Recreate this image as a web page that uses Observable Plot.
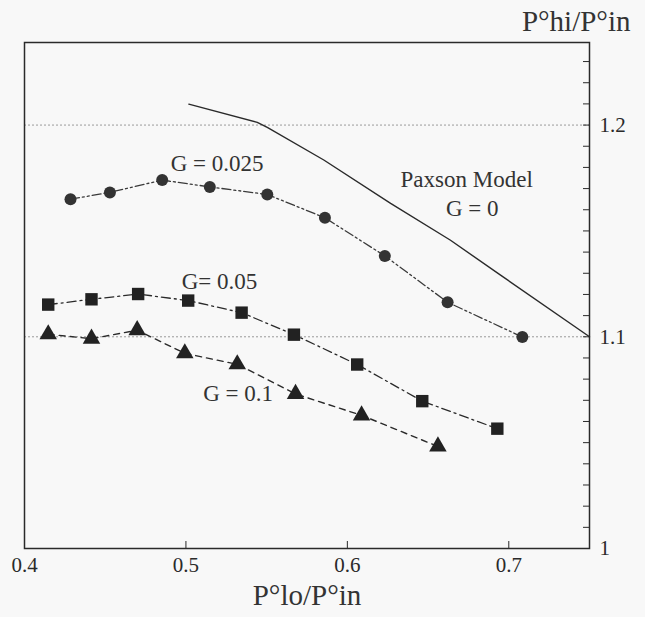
<!DOCTYPE html>
<html><head><meta charset="utf-8">
<script src="https://cdn.jsdelivr.net/npm/d3@7"></script>
<script src="https://cdn.jsdelivr.net/npm/@observablehq/plot@0.6"></script>
<style>body{margin:0;background:#f8f8f8}</style>
</head><body><div id="chart"></div>
<script>
// G = 0.025 (circles)
const g025X = [0.4285, 0.4529, 0.4853, 0.5148, 0.5504, 0.5861, 0.6232, 0.6621, 0.7084];
const g025Y = [1.1650, 1.1682, 1.1740, 1.1708, 1.1672, 1.1562, 1.1382, 1.1163, 1.0999];
// G = 0.05 (squares)
const g05X = [0.4147, 0.4415, 0.4704, 0.5014, 0.5345, 0.5669, 0.6061, 0.6464, 0.6929];
const g05Y = [1.1152, 1.1177, 1.1202, 1.1171, 1.1114, 1.1010, 1.0869, 1.0696, 1.0566];
// G = 0.1 (triangles)
const g1X = [0.4147, 0.4415, 0.4698, 0.4993, 0.5318, 0.5679, 0.6088, 0.6561];
const g1Y = [1.1012, 1.0991, 1.1031, 1.0922, 1.0870, 1.0730, 1.0629, 1.0482];
// Paxson model G = 0 (solid line)
const paxX = [0.5018, 0.5442, 0.5504, 0.5854, 0.6268, 0.6639, 0.6949, 0.7500];
const paxY = [1.2099, 1.2013, 1.1989, 1.1835, 1.1630, 1.1456, 1.1291, 1.1000];

const xTicks = [0.4, 0.5, 0.6, 0.7];
const xTickMarks = [0.5, 0.6, 0.7];
const yTicks = [1.0, 1.1, 1.2];
const yGrid = [1.1, 1.2];
const yMinor = d3.range(1, 24).map(i => 1 + i / 100);

const labelText = ["G = 0.025", "G= 0.05", "G = 0.1", "Paxson Model", "G = 0"];
const labelX = [0.5193, 0.5208, 0.5323, 0.6739, 0.6774];
const labelY = [1.1818, 1.1260, 1.0731, 1.1740, 1.1605];

const toRows = (xs, ys) => xs.map((x, i) => ({x, y: ys[i]}));
const g025 = toRows(g025X, g025Y);
const g05 = toRows(g05X, g05Y);
const g1 = toRows(g1X, g1Y);
const pax = toRows(paxX, paxY);
const labels = labelText.map((t, i) => ({t, x: labelX[i], y: labelY[i]}));

const ink = "#2a2a2a";
const serif = "'Liberation Serif', 'Times New Roman', serif";
const chart = Plot.plot({
  width: 645, height: 617,
  marginLeft: 24, marginRight: 56, marginTop: 42, marginBottom: 69,
  style: {fontFamily: serif, background: "#f8f8f8", color: ink},
  x: {domain: [0.4, 0.75]},
  y: {domain: [1.0, 1.239]},
  marks: [
    Plot.ruleY(yGrid, {y: d => d, stroke: "#9a9a9a", strokeDasharray: "2,2", strokeWidth: 1}),
    Plot.ruleX(xTickMarks, {x: d => d, insetTop: 499, stroke: ink}),
    Plot.ruleY(yMinor, {y: d => d, insetLeft: 559, stroke: ink}),
    Plot.frame({stroke: ink, strokeWidth: 1.5}),
    Plot.axisX({ticks: xTicks, tickSize: 0, tickPadding: 9, fontSize: 21, fontFamily: serif, label: null, tickFormat: d => d.toFixed(1)}),
    Plot.axisY({anchor: "right", ticks: yTicks, tickSize: 0, tickPadding: 10, fontSize: 21, fontFamily: serif, label: null,
      tickFormat: d => d === 1 ? "1" : d.toFixed(1)}),
    Plot.line(pax, {x: "x", y: "y", stroke: ink, strokeWidth: 1.4}),
    Plot.line(g025, {x: "x", y: "y", stroke: "#3a3a3a", strokeWidth: 1.3, strokeDasharray: "9,3,2,3,2,3"}),
    Plot.line(g05, {x: "x", y: "y", stroke: ink, strokeWidth: 1.3, strokeDasharray: "9,4,2,4"}),
    Plot.line(g1, {x: "x", y: "y", stroke: ink, strokeWidth: 1.4, strokeDasharray: "6,5"}),
    Plot.dot(g025, {x: "x", y: "y", r: 6, fill: "#333", symbol: "circle"}),
    Plot.dot(g05, {x: "x", y: "y", r: 7, fill: "#222", symbol: "square"}),
    Plot.dot(g1, {x: "x", y: "y", r: 6.5, fill: "#222", symbol: "triangle"}),
    Plot.text(labels, {x: "x", y: "y", text: "t", fontSize: 23, fontFamily: serif, fill: "#333"}),
    Plot.text(["P°lo/P°in"], {frameAnchor: "bottom", dx: 0, dy: 56, fontSize: 29, fontFamily: serif, fill: "#333"}),
    Plot.text(["P°hi/P°in"], {frameAnchor: "top-right", textAnchor: "end", dx: 41, dy: -32, fontSize: 29, fontFamily: serif, fill: "#333"})
  ]
});
document.getElementById("chart").append(chart);
</script>
</body></html>
